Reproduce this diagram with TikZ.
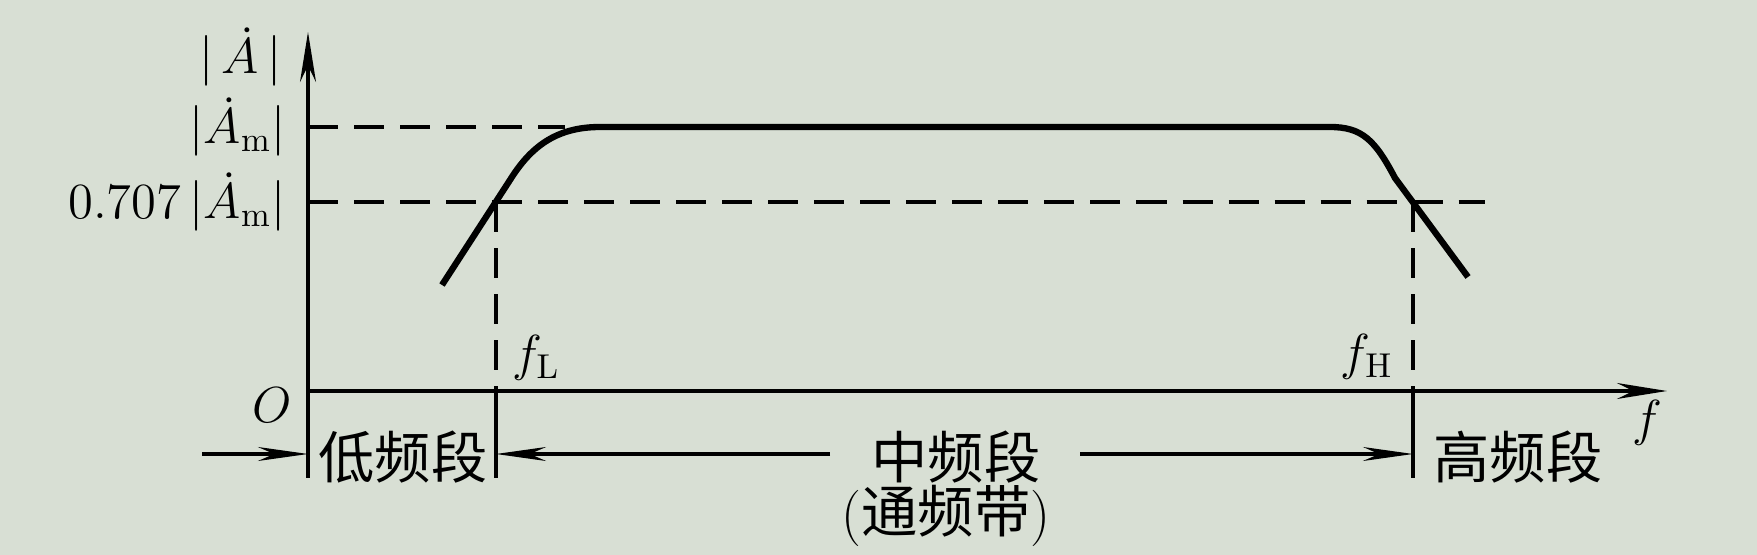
\documentclass[tikz,border=0pt]{standalone}
\usepackage{fontspec}
\newfontfamily\cjk{Noto Sans CJK SC}
\usetikzlibrary{arrows.meta}
\definecolor{paper}{RGB}{216,223,212}
\begin{document}
\begin{tikzpicture}[x=0.01cm, y=-0.01cm, font=\fontsize{14}{16}\selectfont, inner sep=0.5pt,
        axis/.style={line width=0.9pt, -{Stealth[length=5mm,width=1.6mm]}},
        guide/.style={line width=0.9pt, dash pattern=on 3mm off 1.6mm},
        span/.style={line width=0.9pt, -{Stealth[length=5mm,width=1.4mm]}},
        band/.style={font=\fontsize{16}{18}\selectfont\cjk}]
        \fill[paper] (0,0) rectangle (1757,555);
        \coordinate (O) at (308,391);
        \coordinate (fL) at (496,391);
        \coordinate (fH) at (1413,391);
        \draw[guide] (308,127) -- (565,127);
        \draw[guide] (308,202) -- (1485,202);
        \draw[guide] (496,202) -- (fL);
        \draw[guide] (1413,202) -- (fH);
        \draw[line width=0.9pt] (fL) -- (496,478);
        \draw[line width=0.9pt] (fH) -- (1413,478);
        \draw[axis] (308,478) -- (308,32);
        \draw[axis] (O) -- (1667,391);
        \draw[line width=1.8pt] (442,285) -- (510,180) .. controls (530,148) and (555,127) .. (600,127)
                -- (1330,127) .. controls (1362,127) and (1375,140) .. (1395,178) -- (1468,277);
        \node[anchor=east] (Alab) at (284,57) {$|\,\dot{A}\,|$};
        \node[anchor=east] (Amlab) at (288,127) {$|\dot{A}_\mathrm{m}|$};
        \node[anchor=east] (A707) at (288,202) {$0.707\,|\dot{A}_\mathrm{m}|$};
        \node (Olab) at (272,405) {$O$};
        \node (fLlab) at (536,358) {$f_\mathrm{L}$};
        \node (fHlab) at (1367,357) {$f_\mathrm{H}$};
        \node (flab) at (1647,423) {$f$};
        \node[band] (low) at (403,457) {低频段};
        \node[band] (mid) at (956,457) {中频段};
        \node[band] (pass) at (946,516) {{\rmfamily(}通频带{\rmfamily)}};
        \node[band] (high) at (1518,457) {高频段};
        \coordinate (ml) at (830,454);
        \coordinate (mr) at (1080,454);
        \draw[span] (202,454) -- (308,454);
        \draw[span] (ml) -- (496,454);
        \draw[span] (mr) -- (1413,454);
\end{tikzpicture}
\end{document}
